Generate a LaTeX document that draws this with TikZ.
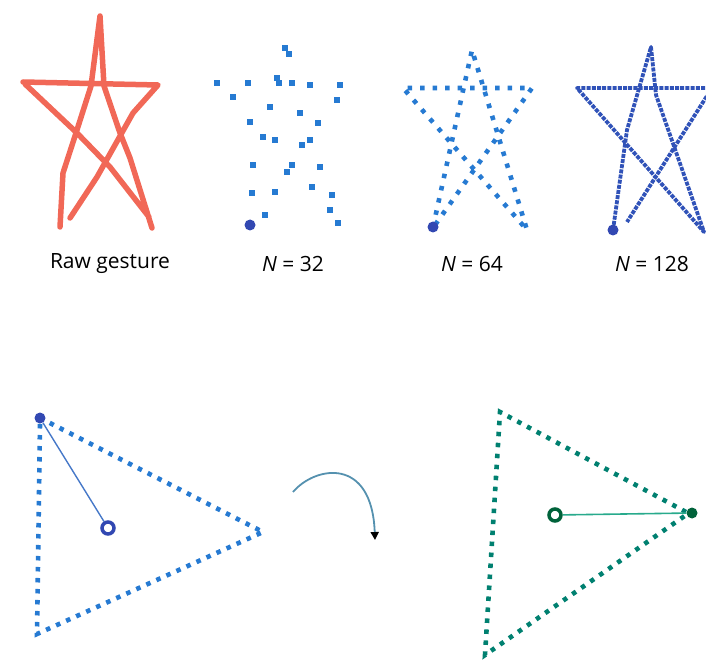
\documentclass[tikz,border=0pt]{standalone}
\usepackage{fontspec}
\setmainfont{Open Sans}
\usepackage{xcolor}
\usepackage{tikz}
\usetikzlibrary{arrows.meta}
\definecolor{rawred}{RGB}{238,78,58}
\definecolor{ptblue}{RGB}{38,122,210}
\definecolor{navy}{RGB}{50,72,178}
\definecolor{ptgreen}{RGB}{0,128,112}
\definecolor{dkgreen}{RGB}{0,98,58}
\definecolor{lnblue}{RGB}{70,120,200}
\definecolor{lngreen}{RGB}{40,170,140}
\definecolor{arcblue}{RGB}{85,145,175}
\begin{document}
\begin{tikzpicture}[x=1pt,y=-1pt,>=Stealth,
  rawstroke/.style={rawred,line width=5.5pt,line cap=round,line join=round,opacity=.85},
  startdot/.style={circle,fill=#1,inner sep=0pt,minimum size=11pt},
  ring/.style={circle,draw=#1,line width=3.5pt,minimum size=12pt,inner sep=0pt},
  lab/.style={font=\fontsize{21}{24}\selectfont,text=black}]
\useasboundingbox (0,0) rectangle (706,660);
\draw[rawstroke](60,227)--(63,173)--(76,133)--(91,86)--(100,16)--(104,86)--(120,133)--(130,158)--(152,228)
  (23,82)--(158,85)--(133,113)--(97,177)--(70,218)
  (25,84)--(77,133)--(110,167)--(149,217);
\foreach \p in {(285,48),(289,54),(217,83),(248,83),(277,78),(279,83),(292,83),(310,85),(340,85),
  (233,97),(337,100),(270,107),(300,113),(250,122),(318,123),(263,137),(275,140),(310,140),
  (302,145),(253,165),(292,165),(287,172),(320,167),(252,193),(275,192),(312,187),(332,195),
  (265,215),(330,210),(338,223)}
  \fill[ptblue] \p ++(-2.6,-2.6) rectangle ++(5.2,5.2);
\node[startdot=navy] (s32) at (250,225) {};
\draw[ptblue,line width=4.6pt,dash pattern=on 4.5pt off 8pt](433,227)--(472,50)--(527,230)--(403,88)--(532,88)--(435,225);
\node[startdot=navy] (s64) at (433,227) {};
\draw[navy!80!ptblue,line width=3.8pt,dash pattern=on 4pt off 1.2pt,line join=round](613,230)--(627,130)--(651,47)--(656,95)--(704,232)--(577,88)--(712,88)--(627,222);
\node[startdot=navy] (s128) at (613,230) {};
\node[lab] (rawlab) at (110,264) {Raw gesture};
\node[lab] (lab32) at (293,264) {\textit{N} = 32};
\node[lab] (lab64) at (472,264) {\textit{N} = 64};
\node[lab] (lab128) at (652,264) {\textit{N} = 128};
\draw[ptblue,line width=4.6pt,dash pattern=on 4.5pt off 6.5pt](40,424)--(37,634)--(263,532)--(46,421);
\node[startdot=navy] (bstart) at (40,418) {};
\node[ring=navy] (bcent) at (108,528) {};
\draw[lnblue,line width=1.4pt](bstart)--(bcent);
\coordinate (arcA) at (293,492);
\coordinate (arcB) at (375,540);
\draw[arcblue,line width=1.8pt,-{Triangle[length=8pt,width=8pt,color=black]}](arcA)..controls(315,466) and (372,456)..(arcB);
\draw[ptgreen,line width=4.6pt,dash pattern=on 4.5pt off 6.5pt](686,512)--(500,412)--(485,655)--(686,515);
\node[startdot=dkgreen] (gstart) at (692,513) {};
\node[ring=dkgreen] (gcent) at (555,515) {};
\draw[lngreen,line width=1.6pt](gcent)--(gstart);
\end{tikzpicture}
\end{document}
